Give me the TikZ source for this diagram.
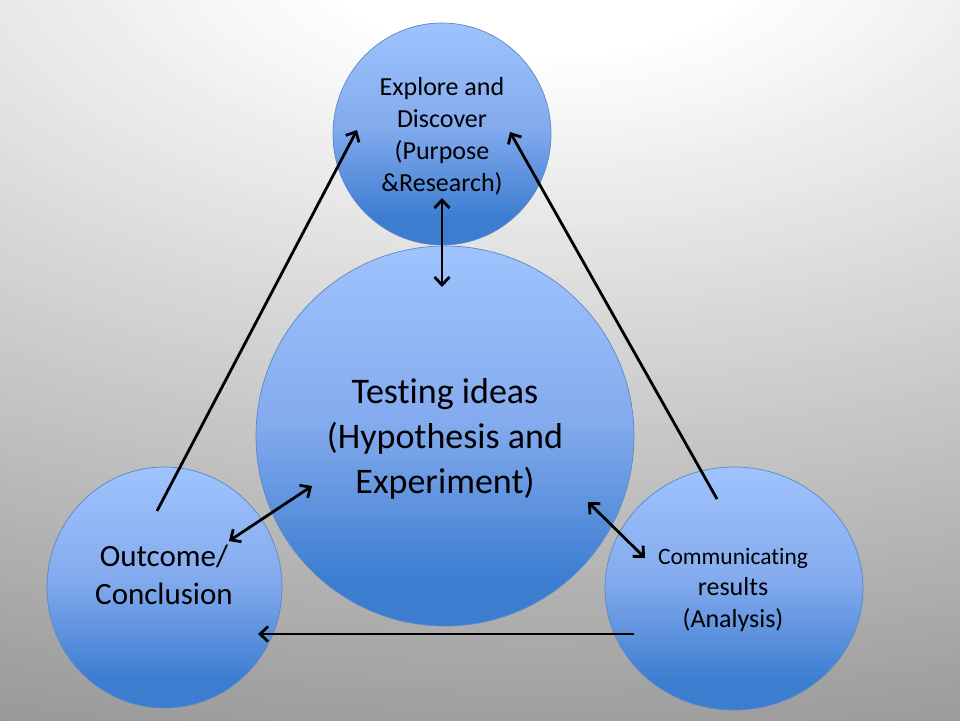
\documentclass[tikz,border=0pt]{standalone}
\usepackage{fontspec}
\setmainfont{Carlito}[Ligatures={NoCommon}]
\usetikzlibrary{arrows.meta,shapes.geometric}
\definecolor{bluetop}{HTML}{9FC3FD}
\definecolor{bluemid}{HTML}{84ABEE}
\definecolor{bluebot}{HTML}{3C7DD0}
\definecolor{blueline}{HTML}{5A88C8}
\pgfdeclareverticalshading{circfill}{100bp}{color(0bp)=(bluebot); color(25bp)=(bluebot); color(31bp)=(bluebot); color(52bp)=(bluemid); color(75bp)=(bluetop); color(100bp)=(bluetop)}
\tikzset{
  bubble/.style={ellipse, draw=blueline, line width=0.7pt, shading=circfill, inner sep=0pt},
  label26/.style={align=center, font=\fontsize{26}{32}\selectfont},
  conn/.style={line width=2.8pt, draw=black},
  onehead/.style={-{Straight Barb[length=8pt,width=15pt]}},
  twohead/.style={{Straight Barb[length=8pt,width=15pt]}-{Straight Barb[length=8pt,width=15pt]}}
}
\begin{document}
\begin{tikzpicture}[x=1pt,y=-1pt]
\useasboundingbox (0,0) rectangle (960,720);
\begin{scope}
  \clip (0,0) rectangle (960,720);
  \fill[black!42] (0,0) rectangle (960,720);
  \foreach \r in {840,832,...,112} {
    \pgfmathsetmacro\p{max(0,min(42,0.0566*(\r-118)))}
    \pgfmathsetmacro\rx{2*\r}
    \fill[black!\p] (540,-60) ellipse[x radius=\rx pt, y radius=\r pt];
  }
\end{scope}

% circles
\node[bubble, minimum width=218, minimum height=222] (explore) at (442,134) {};
\node[bubble, minimum width=378, minimum height=380] (testing) at (445,436) {};
\node[bubble, minimum width=235, minimum height=241] (outcome) at (164.5,587.5) {};
\node[bubble, minimum width=258, minimum height=243] (comm) at (734,588.5) {};

% texts
\node[label26] (exploreT) at (442,136) {Explore and\\Discover\\(Purpose\\\&Research)};
\node[align=center, font=\fontsize{36}{45}\selectfont] (testingT) at (445,439) {Testing ideas\\(Hypothesis and\\Experiment)};
\node[align=center, font=\fontsize{31}{38}\selectfont] (outcomeT) at (164,575) {Outcome/\\Conclusion};
\node[align=center, font=\fontsize{26}{31.5}\selectfont] (commT) at (733,590) {{\fontsize{23.5}{31.5}\selectfont Communicating}\\results\\(Analysis)};

% connector end points
\coordinate (oTop) at (157,511);
\coordinate (eL) at (357,130);
\coordinate (cTop) at (717,499);
\coordinate (eR) at (510,132);
\coordinate (eB) at (442,198);
\coordinate (tT) at (442,287);
\coordinate (oR) at (229,541);
\coordinate (tL) at (312,486);
\coordinate (tR) at (588,502);
\coordinate (cL) at (645,558);
\coordinate (cB) at (634,634);
\coordinate (oB) at (258,634);

% connectors
\draw[conn, onehead] (oTop) -- (eL);
\draw[conn, onehead] (cTop) -- (eR);
\draw[conn, twohead] (eB) -- (tT);
\draw[conn, twohead] (oR) -- (tL);
\draw[conn, twohead] (tR) -- (cL);
\draw[conn, onehead] (cB) -- (oB);
\end{tikzpicture}
\end{document}
